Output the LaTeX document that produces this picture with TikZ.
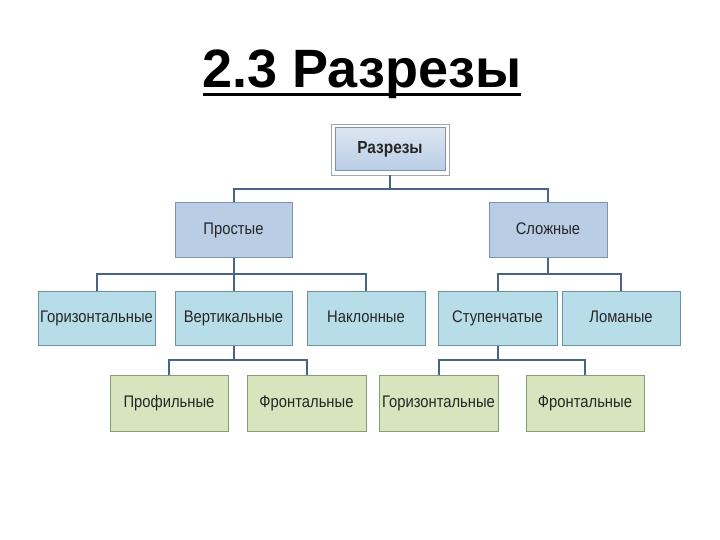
\documentclass[tikz,border=0pt]{standalone}
\usepackage{fontspec}
\setmainfont{Liberation Sans}
\newfontfamily\narrowfont{Liberation Sans}[FakeStretch=0.88]
\usetikzlibrary{calc}
\definecolor{bluefill}{HTML}{B9CDE5}
\definecolor{bluelite}{HTML}{DDE6F1}
\definecolor{blueedge}{HTML}{7F93AE}
\definecolor{cyanfill}{HTML}{B7DEE8}
\definecolor{cyanedge}{HTML}{6F91A1}
\definecolor{greenfill}{HTML}{D7E4BD}
\definecolor{greenedge}{HTML}{8A9A74}
\definecolor{linkcol}{HTML}{4A6489}
\definecolor{txtcol}{HTML}{262626}
\tikzset{
  box/.style={draw, line width=1pt, minimum height=54pt, inner sep=0pt,
    text height=12pt, text depth=3.5pt,
    font=\narrowfont\fontsize{16.8pt}{19pt}\selectfont, text=txtcol},
  lvlb/.style={box, fill=bluefill, draw=blueedge, minimum width=117pt},
  lvlc/.style={box, fill=cyanfill, draw=cyanedge, minimum width=118pt},
  lvlg/.style={box, fill=greenfill, draw=greenedge, minimum width=118pt, minimum height=56pt},
  link/.style={draw=linkcol, line width=2pt}
}
\begin{document}
\begin{tikzpicture}[x=1pt,y=-1pt]
\useasboundingbox (0,0) rectangle (720,540);
% title
\node[anchor=base] (title) at (362,88) {\fontsize{54pt}{60pt}\selectfont\bfseries 2.3 Разрезы};
\draw[line width=3pt] (203,95) -- (521,95);
% top box
\node[draw=gray!70, fill=white, line width=0.8pt, minimum width=118pt, minimum height=51pt] (frame) at (390,149.5) {};
\node[draw=blueedge, line width=1pt, top color=bluelite, bottom color=bluefill,
  minimum width=110pt, minimum height=43pt, inner sep=0pt, text height=12.5pt, text depth=3.5pt,
  font=\narrowfont\bfseries\fontsize{17.5pt}{20pt}\selectfont, text=txtcol] (top) at (390,149.5) {Разрезы};
% level 2
\node[lvlb] (pr) at (233.5,230) {Простые};
\node[lvlb, minimum width=118pt] (sl) at (548,230) {Сложные};
% level 3
\node[lvlc, minimum width=117pt] (g1) at (96.5,318) {Горизонтальные};
\node[lvlc, minimum width=117pt] (ve) at (233.5,318) {Вертикальные};
\node[lvlc] (na) at (366,318) {Наклонные};
\node[lvlc, minimum width=119pt] (st) at (497.5,318) {Ступенчатые};
\node[lvlc] (lo) at (621,318) {Ломаные};
% level 4
\node[lvlg] (pf) at (169,403) {Профильные};
\node[lvlg, minimum width=119pt] (f1) at (306.5,403) {Фронтальные};
\node[lvlg, minimum width=119pt] (g2) at (438.5,403) {Горизонтальные};
\node[lvlg] (f2) at (585,403) {Фронтальные};
% connectors
\foreach \a/\b in {frame/pr, frame/sl, pr/g1, pr/ve, pr/na, sl/st, sl/lo, ve/pf, ve/f1, st/g2, st/f2}{
  \draw[link] (\a.south) |- ($(\a.south)!.5!(\b.north)$) -| (\b.north);
}
\end{tikzpicture}
\end{document}
